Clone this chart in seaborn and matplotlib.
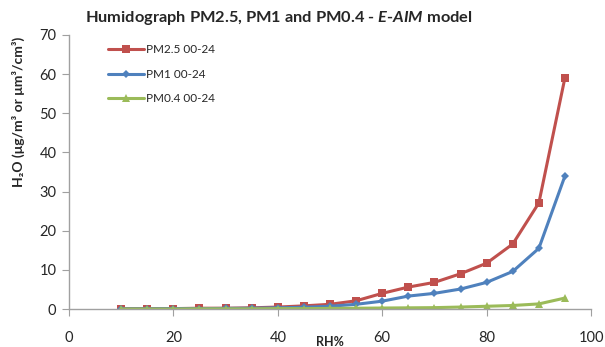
import numpy as np
import pandas as pd
import matplotlib
matplotlib.use("Agg")
import matplotlib.pyplot as plt
import seaborn as sns

# === Data ===
rh = [10, 15, 20, 25, 30, 35, 40, 45, 50, 55, 60, 65, 70, 75, 80, 85, 90, 95]
pm25 = [0.1, 0.1, 0.1, 0.2, 0.2, 0.3, 0.5, 0.8, 1.2, 2.1, 4.0, 5.6, 6.8, 9.0, 11.7, 16.6, 27.1, 59.1]
pm1 = [0.05, 0.05, 0.1, 0.1, 0.15, 0.2, 0.3, 0.45, 0.7, 1.2, 2.0, 3.3, 4.0, 5.1, 6.8, 9.6, 15.5, 34.0]
pm04 = [0.0, 0.0, 0.0, 0.05, 0.05, 0.05, 0.1, 0.1, 0.15, 0.2, 0.25, 0.3, 0.35, 0.5, 0.7, 0.9, 1.3, 2.8]
series_names = ["PM2.5 00-24", "PM1 00-24", "PM0.4 00-24"]
xticks = [0, 20, 40, 60, 80, 100]
yticks = [0, 10, 20, 30, 40, 50, 60, 70]

df = pd.DataFrame({"RH": rh, series_names[0]: pm25, series_names[1]: pm1, series_names[2]: pm04})
df_long = df.melt(id_vars="RH", var_name="Series", value_name="H2O")

# === Style ===
sns.set_style("ticks")
plt.rcParams["font.family"] = ["Lato", "DejaVu Sans"]
plt.rcParams["mathtext.fontset"] = "custom"
plt.rcParams["mathtext.it"] = "Lato:italic:bold"
plt.rcParams["mathtext.rm"] = "Lato:bold"

palette = {series_names[0]: "#C0504D", series_names[1]: "#4F81BD", series_names[2]: "#9BBB59"}
markers = {series_names[0]: "s", series_names[1]: "D", series_names[2]: "^"}
msize = {series_names[0]: 5.5, series_names[1]: 4, series_names[2]: 6}

fig = plt.figure(figsize=(6.05, 3.47), dpi=100)
ax = fig.add_axes([0.114, 0.1095, 0.863, 0.79])

sns.lineplot(data=df_long, x="RH", y="H2O", hue="Series", style="Series",
             palette=palette, markers=markers, dashes=False, linewidth=2.2,
             markersize=5, markeredgewidth=0, ax=ax)

# per-series marker sizes
for line, name in zip(ax.lines[:3], series_names):
    line.set_markersize(msize[name])

ax.set_xlim(0, 100)
ax.set_ylim(0, 70)
ax.set_xticks(xticks)
ax.set_yticks(yticks)
ax.tick_params(axis="x", length=5, pad=11, labelsize=10.5, color="#A0A0A0")
ax.tick_params(axis="y", length=5, pad=4, labelsize=10.5, color="#A0A0A0")
for s in ["top", "right"]:
    ax.spines[s].set_visible(False)
for s in ["left", "bottom"]:
    ax.spines[s].set_color("#A0A0A0")
    ax.spines[s].set_linewidth(1)

fig.text(0.46, 0.948, "Humidograph PM2.5, PM1 and PM0.4 - $\\mathit{E}$-$\\mathit{AIM}$ model",
         fontsize=11.8, fontweight="bold", ha="center", va="center")
ax.set_xlabel("RH%", fontsize=9, fontweight="bold", labelpad=-7)
ax.set_ylabel("H₂O (μg/m³ or μm³/cm³)", fontsize=10, fontweight="bold")
ax.yaxis.set_label_coords(-0.084, 0.72)

leg = ax.legend(loc="upper left", bbox_to_anchor=(0.055, 1.005), frameon=False,
                fontsize=8.5, handlelength=3.0, labelspacing=1.15, handletextpad=0.2,
                title=None)
for h, name in zip(leg.legend_handles, series_names):
    h.set_markersize(msize[name])

fig.savefig("out.png", dpi=100)
